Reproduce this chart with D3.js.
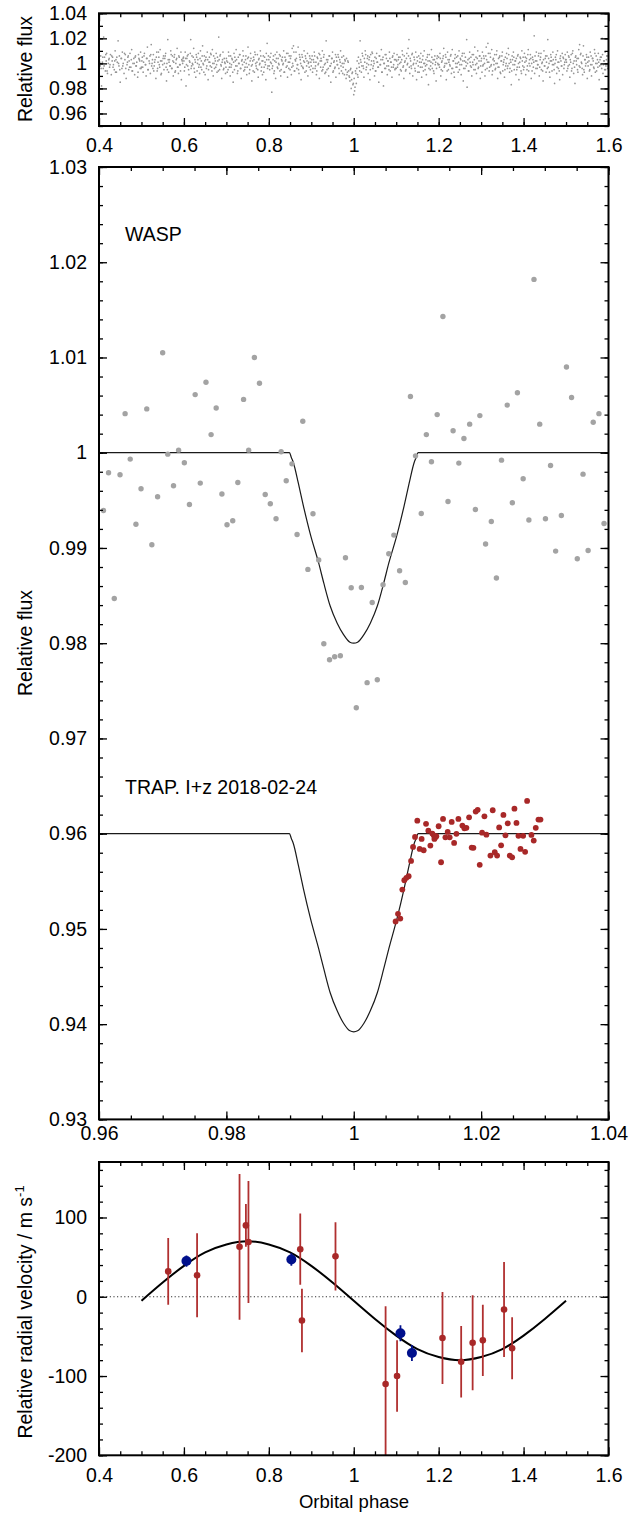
<!DOCTYPE html>
<html><head><meta charset="utf-8">
<script src="https://cdn.jsdelivr.net/npm/d3@7"></script>
<style>
html,body{margin:0;padding:0;background:#fff;}
svg text{font-family:"Liberation Sans",Arial,Helvetica,sans-serif;fill:#000;}
</style></head>
<body>
<svg id="chart" width="631" height="1513"></svg>
<script>
// ---------------- DATA ----------------
// Top panel: full WASP light curve (phase in 1/1000, flux deviation in per-mille)
const topPhase = [
401,403,404,406,408,410,411,413,415,417,418,420,422,424,425,427,429,431,432,434,436,438,440,441,443,445,447,448,450,452,454,455,457,459,461,462,464,466,468,470,471,473,475,477,478,480,482,484,486,487,489,491,493,495,497,498,
500,502,504,505,507,509,511,512,514,516,518,520,521,523,525,527,528,530,532,534,536,537,539,541,543,544,546,548,550,552,553,555,557,559,560,562,564,566,568,569,571,573,575,576,578,580,582,584,585,587,589,591,593,594,596,598,
600,601,603,605,607,609,610,612,614,616,617,619,621,623,625,626,628,630,632,634,635,637,639,641,642,644,646,648,650,651,653,655,657,659,660,662,664,666,667,669,671,673,675,676,678,680,682,684,685,687,689,691,692,694,696,698,
700,702,703,705,707,709,710,712,714,716,718,719,721,723,725,726,728,730,732,734,735,737,739,741,742,744,746,748,750,751,753,755,757,759,760,762,764,766,767,769,771,773,775,776,778,780,782,784,785,787,789,791,793,794,796,798,
800,802,804,805,807,809,811,812,814,816,818,819,821,823,825,826,828,830,832,833,835,837,839,841,842,844,846,848,850,851,853,855,857,858,860,862,864,866,867,869,871,873,875,876,878,880,882,883,885,887,889,891,892,894,896,898,
900,902,903,905,907,909,911,912,914,916,918,919,921,923,925,926,928,930,932,933,935,937,939,941,942,944,946,948,950,951,953,955,957,958,960,962,964,966,967,969,971,973,975,976,978,980,982,983,985,987,989,991,992,994,996,998,
1000,1001,1002,1004,1006,1008,1009,1011,1013,1015,1017,1018,1020,1022,1024,1025,1027,1029,1031,1033,1034,1036,1038,1040,1041,1043,1045,1047,1049,1050,1052,1054,1056,1057,1059,1061,1063,1065,1066,1068,1070,1072,1074,1075,1077,1079,1081,1082,1084,1086,1088,1090,1091,1093,1095,1097,1099,
1100,1102,1104,1105,1107,1109,1111,1112,1114,1116,1118,1119,1121,1123,1125,1126,1128,1130,1132,1133,1135,1137,1139,1141,1142,1144,1146,1148,1150,1151,1153,1155,1157,1158,1160,1162,1164,1166,1167,1169,1171,1173,1175,1176,1178,1180,1182,1183,1185,1187,1189,1191,1192,1194,1196,1198,
1200,1202,1203,1205,1207,1209,1210,1212,1214,1216,1218,1219,1221,1223,1225,1226,1228,1230,1232,1233,1235,1237,1239,1241,1242,1244,1246,1248,1250,1251,1253,1255,1257,1258,1260,1262,1264,1266,1267,1269,1271,1273,1275,1276,1278,1280,1282,1283,1285,1287,1289,1291,1292,1294,1296,1298,
1300,1302,1303,1305,1307,1309,1311,1312,1314,1316,1318,1319,1321,1323,1325,1326,1328,1330,1332,1333,1335,1337,1339,1341,1342,1344,1346,1348,1350,1351,1353,1355,1357,1358,1360,1362,1364,1366,1367,1369,1371,1373,1375,1376,1378,1380,1382,1383,1385,1387,1389,1391,1392,1394,1396,1398,
1400,1402,1403,1405,1407,1409,1411,1412,1414,1416,1418,1419,1421,1423,1425,1426,1428,1430,1432,1433,1435,1437,1439,1441,1442,1444,1446,1448,1450,1451,1453,1455,1457,1458,1460,1462,1464,1466,1467,1469,1471,1473,1475,1476,1478,1480,1482,1483,1485,1487,1489,1491,1492,1494,1496,1498,
1500,1502,1503,1505,1507,1509,1511,1512,1514,1516,1518,1519,1521,1523,1525,1526,1528,1530,1532,1533,1535,1537,1539,1541,1542,1544,1546,1548,1550,1551,1553,1555,1557,1558,1560,1562,1564,1566,1567,1569,1571,1573,1575,1576,1578,1580,1582,1583,1585,1587,1589,1591,1592,1594,1596,1598
];
const topDev = [
3,-2,6,-18,1,-4,21,5,-6,2,8,-8,0,4,-3,7,-9,2,5,-1,-5,10,3,-7,1,18,-2,6,-15,4,-4,9,0,-8,3,7,-12,-1,5,-5,2,8,-3,11,-6,0,4,-9,6,-2,1,-11,7,3,-4,9,
-3,5,-7,1,8,-1,-10,4,13,-5,2,6,-8,15,0,-4,7,-2,3,-12,9,-6,1,5,-3,11,-9,2,-1,6,-5,4,8,-14,0,19,-7,3,-2,10,-4,6,-10,1,7,-6,3,12,-3,-8,5,-1,9,-13,2,4,
2,-6,9,-18,4,-2,7,-9,1,19,-4,6,-1,12,-7,3,-11,5,0,8,-3,-8,10,2,-5,14,-1,6,-9,3,-4,9,-13,1,5,-2,7,-6,11,-10,0,4,-3,8,-7,2,21,-5,6,-1,-12,3,9,-4,1,-8,
4,-7,1,9,-3,-10,6,-1,3,-15,8,-5,2,11,-2,-8,5,0,7,-4,-12,3,10,-6,1,-3,6,-9,4,13,-1,-5,8,-2,-14,2,5,-7,9,0,-4,7,-11,3,-1,10,-6,2,-9,6,-3,1,-13,8,16,-2,
3,-5,1,8,-23,-2,6,-8,2,-12,4,9,-4,0,7,-6,-10,3,5,-1,10,-7,2,-3,8,-11,1,6,-5,4,-9,12,-2,14,-6,3,9,-4,-1,13,-8,5,0,-13,7,-3,2,10,-7,4,-2,8,-10,1,6,-5,
-2,6,-7,3,9,-4,1,-9,5,-1,8,-12,2,4,-6,10,-3,7,-8,0,18,-5,3,-10,6,-2,-15,4,9,-7,1,-4,7,-11,2,-1,5,-8,3,10,-6,0,-3,6,-9,2,-12,4,-7,1,-10,-14,-5,-20,-8,-17,
-25,-12,-22,-6,-16,2,-9,5,-3,18,1,-7,8,-2,-11,4,10,-5,0,6,-8,3,-13,7,-1,9,-4,2,-10,5,-6,8,1,-3,-15,6,-1,11,-7,3,-18,0,7,-4,4,-9,2,-2,9,-6,1,-11,5,-3,8,-5,3,
-4,7,-1,3,-9,5,1,-6,10,-3,-12,6,2,-5,8,-1,12,19,-8,4,-2,7,-10,0,5,-4,9,-13,2,-7,6,1,-3,8,-11,3,-6,10,0,-2,-9,5,2,-17,7,-5,1,11,-4,3,-8,6,-1,-14,4,0,
5,-3,8,-10,1,-6,4,12,-2,7,-13,0,9,-5,3,-1,6,-8,11,-4,2,-11,7,-3,5,0,-7,10,-1,4,-9,6,2,-14,8,-4,1,19,-19,3,-6,9,-2,5,-10,1,7,-5,13,-1,-8,4,10,-3,6,-12,
2,-7,9,-1,4,-10,6,13,-4,16,1,-6,8,-2,11,-9,3,-1,7,-5,0,10,-12,4,-3,6,-8,2,9,-6,1,-11,5,-2,8,-4,12,0,-7,3,-17,6,-1,9,-5,2,-9,4,-3,7,-13,1,5,-6,10,-2,
-5,8,1,-9,4,-2,11,-6,3,7,-12,0,5,-3,22,-8,2,9,-4,-1,6,-10,3,8,-5,1,-14,10,-2,4,-7,6,19,-3,0,-11,7,2,-6,9,-1,-16,5,3,-8,10,-4,1,-13,6,-2,8,-9,4,-1,7,
3,-6,9,-2,5,-11,1,7,-4,10,-8,2,-16,6,-1,4,-7,11,15,-3,8,0,-9,14,-5,3,-2,7,-12,1,5,-6,9,-1,-10,4,2,-4,11,-7,6,0,-3,8,-13,3,-1,5,20,-8,2,-5,9,-2,6,-4
];
// second batch of dots in the dense core of the band
const topPhase2 = [
402,405,409,412,416,419,423,426,430,433,437,439,442,446,449,453,456,460,463,467,469,472,476,479,483,485,488,492,494,496,499,
501,503,506,510,513,515,519,522,524,526,529,531,535,538,540,542,545,547,551,554,556,558,561,563,565,567,570,572,574,577,579,581,583,586,588,590,592,595,597,599,
602,604,606,608,611,613,615,618,620,622,624,627,629,631,633,636,638,640,643,645,647,649,652,654,656,658,661,663,665,668,670,672,674,677,679,681,683,686,688,690,693,695,697,699,
701,704,706,708,711,713,715,717,720,722,724,727,729,731,733,736,738,740,743,745,747,749,752,754,756,758,761,763,765,768,770,772,774,777,779,781,783,786,788,790,792,795,797,799,
801,803,806,808,810,813,815,817,820,822,824,827,829,831,834,836,838,840,843,845,847,849,852,854,856,859,861,863,865,868,870,872,874,877,879,881,884,886,888,890,893,895,897,899,
901,904,906,908,910,913,915,917,920,922,924,927,929,931,934,936,938,940,943,945,947,949,952,954,956,959,961,963,965,968,970,972,974,977,979,981,984,986,988,990,993,995,997,999,
1003,1005,1007,1010,1012,1014,1016,1019,1021,1023,1026,1028,1030,1032,1035,1037,1039,1042,1044,1046,1048,1051,1053,1055,1058,1060,1062,1064,1067,1069,1071,1073,1076,1078,1080,1083,1085,1087,1089,1092,1094,1096,1098,
1101,1103,1106,1108,1110,1113,1115,1117,1120,1122,1124,1127,1129,1131,1134,1136,1138,1140,1143,1145,1147,1149,1152,1154,1156,1159,1161,1163,1165,1168,1170,1172,1174,1177,1179,1181,1184,1186,1188,1190,1193,1195,1197,1199,
1201,1204,1206,1208,1211,1213,1215,1217,1220,1222,1224,1227,1229,1231,1234,1236,1238,1240,1243,1245,1247,1249,1252,1254,1256,1259,1261,1263,1265,1268,1270,1272,1274,1277,1279,1281,1284,1286,1288,1290,1293,1295,1297,1299,
1301,1304,1306,1308,1310,1313,1315,1317,1320,1322,1324,1327,1329,1331,1334,1336,1338,1340,1343,1345,1347,1349,1352,1354,1356,1359,1361,1363,1365,1368,1370,1372,1374,1377,1379,1381,1384,1386,1388,1390,1393,1395,1397,1399,
1401,1404,1406,1408,1410,1413,1415,1417,1420,1422,1424,1427,1429,1431,1434,1436,1438,1440,1443,1445,1447,1449,1452,1454,1456,1459,1461,1463,1465,1468,1470,1472,1474,1477,1479,1481,1484,1486,1488,1490,1493,1495,1497,1499,
1501,1504,1506,1508,1510,1513,1515,1517,1520,1522,1524,1527,1529,1531,1534,1536,1538,1540,1543,1545,1547,1549,1552,1554,1556,1559,1561,1563,1565,1568,1570,1572,1574,1577,1579,1581,1584,1586,1588,1590,1593,1595,1597,1599
];
const topDev2 = [
1,-4,5,-2,7,-6,3,-1,6,-3,2,-7,5,0,-5,4,-2,8,-4,1,6,-3,3,-6,0,5,-2,-7,4,2,-4,
2,-3,6,-1,4,-5,0,7,-2,3,-6,1,5,-4,9,-1,2,-8,4,0,6,-3,-5,3,1,-2,7,-4,2,5,-7,0,4,-3,6,-1,-6,3,0,5,
-3,4,-1,6,-5,2,8,-2,0,5,-4,1,7,-6,3,-1,4,-3,6,0,-7,2,5,-2,3,-5,1,8,-3,0,6,-4,2,-1,5,-6,3,7,-2,1,-5,4,0,-3,
2,-5,6,0,-3,4,-7,1,5,-2,3,-6,0,7,-4,2,-1,6,-5,3,0,-3,5,-8,2,4,-1,-6,3,7,-2,1,-5,4,0,6,-3,2,-7,5,-1,3,-4,6,
-2,5,0,-4,3,-6,7,1,-3,4,-1,6,-5,2,0,-7,5,3,-2,8,-4,1,6,-3,0,9,-6,2,4,-1,-5,7,3,-2,5,-4,1,6,-6,2,0,-3,4,1,
3,-4,1,6,-2,-6,4,0,7,-3,2,-5,5,-1,-7,3,1,-4,6,-2,0,4,-6,2,-3,5,-1,7,-4,1,-2,5,-8,0,3,-5,-9,2,-6,-11,-4,-13,-7,-16,
-19,-8,-4,-11,0,-6,3,-2,6,-4,1,7,-3,4,-1,5,-5,2,8,-2,0,-6,4,1,-3,6,-1,3,-7,5,0,-4,7,-2,2,-5,4,1,-3,6,-1,3,-4,
2,-3,5,0,-5,3,7,-2,1,-6,4,0,6,-3,2,-4,8,-1,3,-6,0,5,-2,-7,4,1,-3,6,0,-5,3,-1,7,-4,2,-2,5,0,-6,3,1,-4,6,-1,
-1,4,-5,2,6,-3,0,5,-6,3,1,-2,7,-4,2,-7,4,0,-3,6,1,-5,3,-1,8,-4,2,5,-2,0,-6,4,1,-3,7,-1,3,-5,5,0,-4,2,6,-2,
4,-2,6,0,-5,3,1,8,-3,5,-1,-6,4,2,-4,7,0,-3,5,-7,2,6,-1,3,-5,0,4,-2,7,-4,1,-6,3,5,-1,2,-5,6,0,-3,4,-8,2,5,
-3,5,2,-5,7,0,-2,4,-6,3,1,6,-4,2,-1,8,-3,5,0,-6,3,-2,6,1,-4,4,-7,2,5,-1,3,-5,0,7,-3,1,-6,4,2,-2,5,-4,1,3,
1,-4,6,-1,3,-6,8,0,-3,5,2,-5,4,-2,7,1,-4,6,-7,3,0,5,-2,2,-5,6,-1,4,-3,8,0,-6,3,1,-2,5,-4,7,-1,2,-5,3,6,-2
];

// Middle panel: binned WASP photometry
const waspPhase = [0.9607,0.9615,0.9624,0.9633,0.9641,0.9649,0.9658,0.9666,0.9675,0.9683,0.9692,0.9700,0.9708,0.9717,0.9725,0.9734,0.9742,0.9751,0.9759,0.9768,0.9776,0.9784,0.9793,0.9801,0.9810,0.9818,0.9827,0.9835,0.9844,0.9852,0.9861,0.9869,0.9878,0.9886,0.9894,0.9903,0.9911,0.9920,0.9928,0.9936,0.9945,0.9953,0.9962,0.9970,0.9979,0.9987,0.9996,1.0004,1.0012,1.0021,1.0029,1.0037,1.0046,1.0055,1.0063,1.0072,1.0081,1.0089,1.0097,1.0106,1.0114,1.0122,1.0131,1.0140,1.0148,1.0156,1.0165,1.0173,1.0182,1.0191,1.0198,1.0207,1.0216,1.0224,1.0232,1.0241,1.0249,1.0257,1.0266,1.0275,1.0283,1.0292,1.0301,1.0309,1.0317,1.0326,1.0334,1.0342,1.0351,1.0360,1.0368,1.0376,1.0385,1.0393];
const waspFlux = [0.99394,0.99789,0.98470,0.99768,1.0041,0.99933,0.99249,0.99621,1.0046,0.99034,0.99537,1.0105,0.99985,0.99653,1.00027,0.99894,0.99457,1.0061,0.99681,1.0074,1.0019,1.0047,0.99566,0.99244,0.99286,0.99688,1.0056,1.00027,1.0100,1.0073,0.99561,0.99464,0.99306,1.0001,0.99705,0.99883,0.99142,1.0033,0.98775,0.99359,0.98873,0.97995,0.97827,0.97858,0.97869,0.98897,0.98582,0.97323,0.98585,0.97586,0.98428,0.97617,0.98614,0.98939,0.99135,0.98761,0.98638,1.0059,0.99967,0.99362,1.0019,0.99905,1.0040,1.0143,0.99488,1.0023,0.99891,1.0015,1.0030,0.99404,1.0039,0.99041,0.99278,0.98684,0.99922,1.0050,0.99474,1.0063,0.99726,0.99293,1.0182,1.0030,0.99306,0.99866,0.98967,0.99341,1.0090,1.0058,0.98887,0.99775,0.98974,1.0032,1.0041,0.99257];

// Middle panel: TRAPPIST I+z photometry
const trapPhase = [1.00657,1.00695,1.00731,1.00763,1.00794,1.00826,1.00862,1.00900,1.00931,1.00962,1.00998,1.01035,1.01066,1.01098,1.01135,1.01171,1.01203,1.01234,1.01256,1.01266,1.01282,1.01297,1.01333,1.01371,1.01402,1.01439,1.01475,1.01506,1.01538,1.01576,1.01612,1.01643,1.01706,1.01737,1.01769,1.01811,1.01852,1.01879,1.01915,1.01946,1.01978,1.02015,1.02052,1.02083,1.02146,1.02182,1.02214,1.02251,1.02283,1.02314,1.02350,1.02382,1.02418,1.02450,1.02487,1.02523,1.02555,1.02586,1.02618,1.02660,1.02691,1.02722,1.02790,1.02826,1.02858,1.02900,1.02932];
const trapFlux = [0.95078,0.95158,0.95109,0.95413,0.95511,0.95536,0.95553,0.95714,0.95861,0.95966,0.96137,0.95840,0.95945,0.95826,0.96103,0.96032,0.95875,0.96001,0.95983,0.95945,0.95962,0.95973,0.96078,0.95700,0.96155,0.95962,0.96018,0.95962,0.96123,0.95903,0.95998,0.96155,0.96085,0.96057,0.96061,0.96172,0.95854,0.95851,0.96232,0.96250,0.95673,0.96011,0.96182,0.95990,0.95770,0.96246,0.95805,0.95770,0.96066,0.95878,0.96197,0.95983,0.96109,0.95770,0.95752,0.96263,0.96113,0.95977,0.95840,0.95977,0.95809,0.96344,0.95987,0.95928,0.96061,0.96148,0.96148];

// Middle panel: transit model curves
const modelPhase = [0.96,0.9899,0.9902,0.9905,0.9913,0.9921,0.9932,0.9945,0.9953,0.9963,0.9974,0.9984,0.9994,1.0,1.0006,1.0016,1.0026,1.0037,1.0047,1.0055,1.0068,1.0079,1.0087,1.0095,1.0098,1.0101,1.04];
const waspModel = [1.0,1.0,0.9995,0.9990,0.9968,0.9944,0.9914,0.9884,0.9863,0.9839,0.9821,0.9809,0.9801,0.9800,0.9801,0.9809,0.9821,0.9839,0.9863,0.9884,0.9914,0.9944,0.9968,0.9990,0.9995,1.0,1.0];
const trapModel = [0.96,0.96,0.9595,0.9590,0.9567,0.9542,0.9511,0.9479,0.9458,0.9433,0.9414,0.9401,0.9393,0.9392,0.9393,0.9401,0.9414,0.9433,0.9458,0.9479,0.9511,0.9542,0.9567,0.9590,0.9595,0.96,0.96];

// Bottom panel: radial velocities
const rvRedPhase = [0.563,0.631,0.731,0.746,0.752,0.874,0.878,0.957,1.075,1.102,1.209,1.253,1.280,1.304,1.354,1.373];
const rvRedVel   = [32,27,63,90,69,60,-30,51,-110,-100,-52,-82,-58,-55,-16,-65];
const rvRedErr   = [42,53,92,27,77,45,40,43,98,45,58,45,60,45,60,39];
const rvBluePhase = [0.606,0.853,1.110,1.137];
const rvBlueVel   = [45,47,-46,-71];
const rvBlueErr   = [7,8,10,10];
// RV model curve
const rvModelPhase = [0.50,0.55,0.60,0.65,0.70,0.75,0.80,0.85,0.90,0.95,1.00,1.05,1.10,1.15,1.20,1.25,1.30,1.35,1.40,1.45,1.50];
const rvModelVel   = [-5,18,39,56,66,70,66,56,39,18,-5,-28,-49,-66,-76,-80,-76,-66,-49,-28,-5];

// Tick labels
const phaseTicks = [0.4,0.6,0.8,1.0,1.2,1.4,1.6];
const topFluxTicks = [0.96,0.98,1.0,1.02,1.04];
const midPhaseTicks = [0.96,0.98,1.0,1.02,1.04];
const midFluxTicks = [0.93,0.94,0.95,0.96,0.97,0.98,0.99,1.0,1.01,1.02,1.03];
const rvTicks = [-200,-100,0,100];

// ---------------- DRAW ----------------
const svg = d3.select("#chart");
const FS = 19.5;
const X0 = 99, X1 = 608.5;
const fmt = v => String(+v.toFixed(4));

function panel(x, y, o) {
  const g = svg.append("g");
  const [yb, yt] = y.range();
  const clipId = "clip" + Math.round(yb);
  svg.append("clipPath").attr("id", clipId).append("rect")
    .attr("x", X0).attr("y", yt).attr("width", X1 - X0).attr("height", yb - yt);
  const plot = g.append("g").attr("clip-path", `url(#${clipId})`);
  const axes = g.append("g");
  const strip = s => s.call(a => a.select(".domain").remove()).call(a => a.selectAll("line").attr("stroke", "#000").attr("stroke-width", 1.3));
  axes.append("g").attr("transform", `translate(0,${yb})`)
    .call(d3.axisBottom(x).tickValues(o.xMinor).tickSize(-4).tickFormat("")).call(strip);
  axes.append("g").attr("transform", `translate(0,${yb})`)
    .call(d3.axisBottom(x).tickValues(o.xMajor).tickSize(-8).tickPadding(o.xPad).tickFormat(fmt)).call(strip)
    .selectAll("text").attr("font-size", FS).attr("font-family", "Liberation Sans, Arial, sans-serif");
  axes.append("g").attr("transform", `translate(0,${yt})`)
    .call(d3.axisTop(x).tickValues(o.xMinor).tickSize(-4).tickFormat("")).call(strip);
  axes.append("g").attr("transform", `translate(0,${yt})`)
    .call(d3.axisTop(x).tickValues(o.xMajor).tickSize(-8).tickFormat("")).call(strip);
  axes.append("g").attr("transform", `translate(${X0},0)`)
    .call(d3.axisLeft(y).tickValues(o.yMinor).tickSize(-4).tickFormat("")).call(strip);
  axes.append("g").attr("transform", `translate(${X0},0)`)
    .call(d3.axisLeft(y).tickValues(o.yMajor).tickSize(-8).tickPadding(12).tickFormat(fmt)).call(strip)
    .selectAll("text").attr("font-size", FS).attr("font-family", "Liberation Sans, Arial, sans-serif");
  axes.append("g").attr("transform", `translate(${X1},0)`)
    .call(d3.axisRight(y).tickValues(o.yMinor).tickSize(-4).tickFormat("")).call(strip);
  axes.append("g").attr("transform", `translate(${X1},0)`)
    .call(d3.axisRight(y).tickValues(o.yMajor).tickSize(-8).tickFormat("")).call(strip);
  axes.selectAll(".tick text").attr("fill", "#000");
  axes.append("rect").attr("x", X0).attr("y", yt).attr("width", X1 - X0).attr("height", yb - yt)
    .attr("fill", "none").attr("stroke", "#000").attr("stroke-width", 2);
  return plot;
}

// ---- Top panel ----
const xTop = d3.scaleLinear([0.4, 1.6], [X0, X1]);
const yTop = d3.scaleLinear([0.95, 1.04], [126, 13.3]);
const pTop = panel(xTop, yTop, {
  xMajor: phaseTicks, xMinor: d3.range(0.45, 1.6, 0.05), xPad: 12,
  yMajor: topFluxTicks, yMinor: d3.range(0.95, 1.041, 0.01)
});
const topPts = [];
for (let i = 0; i < Math.min(topPhase.length, topDev.length); i++) topPts.push([topPhase[i], topDev[i]]);
for (let i = 0; i < Math.min(topPhase2.length, topDev2.length); i++) topPts.push([topPhase2[i], topDev2[i]]);
pTop.append("g").selectAll("circle").data(topPts).join("circle")
  .attr("cx", d => xTop(d[0] / 1000))
  .attr("cy", d => yTop(1 + d[1] / 1000))
  .attr("r", 0.85).attr("fill", "#959595");
svg.append("text").attr("transform", "translate(32,69) rotate(-90)")
  .attr("text-anchor", "middle").attr("font-size", FS).text("Relative flux");

// ---- Middle panel ----
const xMid = d3.scaleLinear([0.96, 1.04], [X0, X1]);
const yMid = d3.scaleLinear([0.93, 1.03], [1119.4, 167]);
const pMid = panel(xMid, yMid, {
  xMajor: midPhaseTicks, xMinor: d3.range(0.965, 1.04, 0.005), xPad: 7,
  yMajor: midFluxTicks, yMinor: d3.range(0.93, 1.0301, 0.002)
});
const line = d3.line().curve(d3.curveMonotoneX);
pMid.append("path").attr("d", line(modelPhase.map((p, i) => [xMid(p), yMid(waspModel[i])])))
  .attr("fill", "none").attr("stroke", "#1a1a1a").attr("stroke-width", 1.2);
pMid.append("path").attr("d", line(modelPhase.map((p, i) => [xMid(p), yMid(trapModel[i])])))
  .attr("fill", "none").attr("stroke", "#1a1a1a").attr("stroke-width", 1.2);
pMid.append("g").selectAll("circle").data(waspPhase).join("circle")
  .attr("cx", (p) => xMid(p)).attr("cy", (p, i) => yMid(waspFlux[i]))
  .attr("r", 2.7).attr("fill", "#a3a3a3");
pMid.append("g").selectAll("circle").data(trapPhase).join("circle")
  .attr("cx", (p) => xMid(p)).attr("cy", (p, i) => yMid(trapFlux[i]))
  .attr("r", 2.9).attr("fill", "#a82828");
svg.append("text").attr("x", 125).attr("y", 241).attr("font-size", FS).text("WASP");
svg.append("text").attr("x", 125).attr("y", 794).attr("font-size", FS).text("TRAP. I+z 2018-02-24");
svg.append("text").attr("transform", "translate(32,643) rotate(-90)")
  .attr("text-anchor", "middle").attr("font-size", FS).text("Relative flux");

// ---- Bottom panel ----
const xBot = d3.scaleLinear([0.4, 1.6], [X0, X1]);
const yBot = d3.scaleLinear([-200, 170], [1455.3, 1162]);
const pBot = panel(xBot, yBot, {
  xMajor: phaseTicks, xMinor: d3.range(0.45, 1.6, 0.05), xPad: 13,
  yMajor: rvTicks, yMinor: d3.range(-200, 171, 20)
});
pBot.append("line").attr("x1", X0).attr("x2", X1).attr("y1", yBot(0)).attr("y2", yBot(0))
  .attr("stroke", "#333").attr("stroke-width", 1).attr("stroke-dasharray", "1.2,2.4");
pBot.append("path").attr("d", d3.line().curve(d3.curveNatural)(rvModelPhase.map((p, i) => [xBot(p), yBot(rvModelVel[i])])))
  .attr("fill", "none").attr("stroke", "#000").attr("stroke-width", 2);
pBot.append("g").selectAll("line").data(rvRedPhase).join("line")
  .attr("x1", p => xBot(p)).attr("x2", p => xBot(p))
  .attr("y1", (p, i) => yBot(rvRedVel[i] + rvRedErr[i])).attr("y2", (p, i) => yBot(rvRedVel[i] - rvRedErr[i]))
  .attr("stroke", "#b03030").attr("stroke-width", 1.8);
pBot.append("g").selectAll("circle").data(rvRedPhase).join("circle")
  .attr("cx", p => xBot(p)).attr("cy", (p, i) => yBot(rvRedVel[i])).attr("r", 3.3).attr("fill", "#a82828");
pBot.append("g").selectAll("line").data(rvBluePhase).join("line")
  .attr("x1", p => xBot(p)).attr("x2", p => xBot(p))
  .attr("y1", (p, i) => yBot(rvBlueVel[i] + rvBlueErr[i])).attr("y2", (p, i) => yBot(rvBlueVel[i] - rvBlueErr[i]))
  .attr("stroke", "#00108c").attr("stroke-width", 1.8);
pBot.append("g").selectAll("circle").data(rvBluePhase).join("circle")
  .attr("cx", p => xBot(p)).attr("cy", (p, i) => yBot(rvBlueVel[i])).attr("r", 5).attr("fill", "#00108c");
const yl = svg.append("text").attr("transform", "translate(32,1312) rotate(-90)")
  .attr("text-anchor", "middle").attr("font-size", FS);
yl.append("tspan").text("Relative radial velocity / m s");
yl.append("tspan").attr("dy", -8).attr("font-size", 13).text("-1");
svg.append("text").attr("x", 354).attr("y", 1508).attr("text-anchor", "middle").attr("font-size", 18.5).text("Orbital phase");
</script>
</body></html>
